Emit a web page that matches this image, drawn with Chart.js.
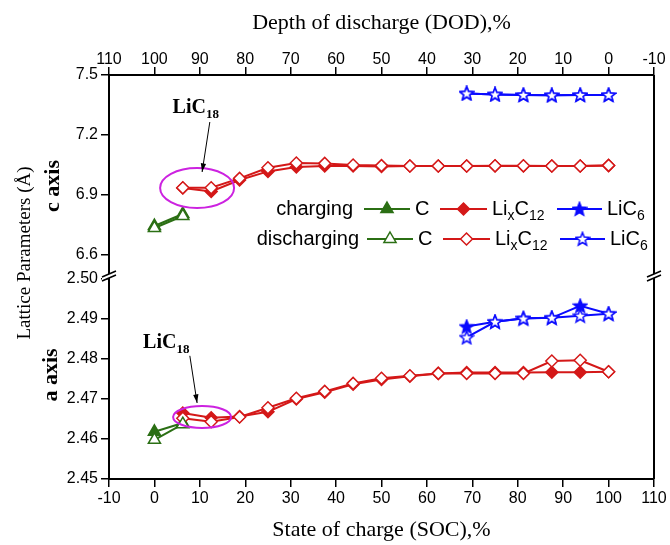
<!DOCTYPE html>
<html>
<head>
<meta charset="utf-8">
<script src="https://cdn.jsdelivr.net/npm/chart.js@4/dist/chart.umd.min.js"></script>
<style>
  html, body { margin: 0; padding: 0; background: #fff; }
</style>
</head>
<body>
<canvas id="chart-lattice" width="670" height="545"></canvas>
<script>
// state of charge (%) for each phase
const socC = [0, 6.25];
const socLi12 = [6.25, 12.5, 18.75, 25, 31.25, 37.5, 43.75, 50, 56.25, 62.5, 68.75, 75, 81.25, 87.5, 93.75, 100];
const socLi6 = [68.75, 75, 81.25, 87.5, 93.75, 100];

// c axis (A)
const cCharge = [6.745, 6.805];
const cDischarge = [6.735, 6.795];
const li12CCharge = [6.935, 6.918, 6.975, 7.018, 7.040, 7.045, 7.045, 7.043, 7.045, 7.045, 7.045, 7.045, 7.045, 7.045, 7.045, 7.047];
const li12CDischarge = [6.936, 6.936, 6.983, 7.036, 7.060, 7.058, 7.050, 7.047, 7.045, 7.045, 7.045, 7.046, 7.046, 7.045, 7.045, 7.048];
const li6CCharge = [7.408, 7.403, 7.400, 7.399, 7.400, 7.400];
const li6CDischarge = [7.408, 7.403, 7.400, 7.399, 7.400, 7.400];

// a axis (A)
const aCharge = [2.4618, 2.4640];
const aDischarge = [2.4598, 2.4637];
const li12ACharge = [2.4665, 2.4653, 2.4656, 2.4668, 2.4700, 2.4717, 2.4737, 2.4749, 2.4757, 2.4764, 2.4766, 2.4766, 2.4766, 2.4767, 2.4767, 2.4768];
const li12ADischarge = [2.4652, 2.4643, 2.4655, 2.4678, 2.4702, 2.4719, 2.4739, 2.4752, 2.4758, 2.4764, 2.4764, 2.4764, 2.4764, 2.4795, 2.4797, 2.4768];
const li6ACharge = [2.4881, 2.4893, 2.4902, 2.4903, 2.4933, 2.4913];
const li6ADischarge = [2.4854, 2.4893, 2.4901, 2.4903, 2.4908, 2.4913];

// tick labels
const cTicks = [6.6, 6.9, 7.2, 7.5];
const aTicks = [2.45, 2.46, 2.47, 2.48, 2.49, 2.50];

const GREEN = '#2b6f14';
const RED = '#d41818';
const BLUE = '#0a0aff';
const MAGENTA = '#cc22e0';
const SANS = '"Liberation Sans", Arial, sans-serif';
const SERIF = '"Liberation Serif", "Times New Roman", serif';

function makeStar(filled) {
  const c = document.createElement('canvas');
  c.width = 16; c.height = 16;
  const g = c.getContext('2d');
  g.beginPath();
  for (let i = 0; i < 10; i++) {
    const r = i % 2 === 0 ? 7 : 3;
    const a = -Math.PI / 2 + i * Math.PI / 5;
    const px = 8 + r * Math.cos(a), py = 8.5 + r * Math.sin(a);
    if (i === 0) g.moveTo(px, py); else g.lineTo(px, py);
  }
  g.closePath();
  g.fillStyle = filled ? BLUE : '#fff';
  g.fill();
  g.lineWidth = 1.5;
  g.strokeStyle = BLUE;
  g.stroke();
  return c;
}
const starFull = makeStar(true);
const starOpen = makeStar(false);

function pts(xs, ys) {
  return xs.map((x, i) => ({x: x, y: ys[i]}));
}

function series(label, xs, ys, axis, color, style, filled, order) {
  const isStar = style === 'star';
  return {
    label: label,
    data: pts(xs, ys),
    yAxisID: axis,
    xAxisID: 'x',
    showLine: true,
    tension: 0,
    borderColor: color,
    borderWidth: 2,
    backgroundColor: filled ? color : '#fff',
    pointStyle: isStar ? (filled ? starFull : starOpen) : style,
    pointRadius: style === 'triangle' ? 7 : 6,
    pointBorderWidth: 1.5,
    pointBorderColor: color,
    pointBackgroundColor: filled ? color : '#fff',
    order: order
  };
}

function drawMark(ctx, kind, filled, color, x, y) {
  ctx.save();
  if (kind === 'star') {
    ctx.drawImage(filled ? starFull : starOpen, x - 8, y - 8);
    ctx.restore();
    return;
  }
  ctx.strokeStyle = color;
  ctx.fillStyle = filled ? color : '#fff';
  ctx.lineWidth = 1.5;
  ctx.beginPath();
  if (kind === 'triangle') {
    const r = 7;
    ctx.moveTo(x, y - r);
    ctx.lineTo(x + r * 0.866, y + r / 2);
    ctx.lineTo(x - r * 0.866, y + r / 2);
  } else {
    const r = 6;
    ctx.moveTo(x - r, y); ctx.lineTo(x, y - r); ctx.lineTo(x + r, y); ctx.lineTo(x, y + r);
  }
  ctx.closePath();
  ctx.fill();
  ctx.stroke();
  ctx.restore();
}

function drawSub(ctx, parts, x, y, big, small, bold, family) {
  // parts: [text, isSub]
  let cx = x;
  parts.forEach(p => {
    ctx.font = (bold ? 'bold ' : '') + (p[1] ? small : big) + 'px ' + family;
    ctx.fillText(p[0], cx, p[1] ? y + big * 0.35 : y);
    cx += ctx.measureText(p[0]).width;
  });
}

function arrow(ctx, x1, y1, x2, y2) {
  ctx.beginPath();
  ctx.moveTo(x1, y1); ctx.lineTo(x2, y2);
  ctx.stroke();
  const a = Math.atan2(y2 - y1, x2 - x1);
  ctx.beginPath();
  ctx.moveTo(x2, y2);
  ctx.lineTo(x2 - 9 * Math.cos(a - 0.3), y2 - 9 * Math.sin(a - 0.3));
  ctx.lineTo(x2 - 9 * Math.cos(a + 0.3), y2 - 9 * Math.sin(a + 0.3));
  ctx.closePath();
  ctx.fill();
}

const decor = {
  id: 'decor',
  afterDraw(chart) {
    const ctx = chart.ctx;
    const area = chart.chartArea;
    const sx = chart.scales.x, yC = chart.scales.yC, yA = chart.scales.yA;
    ctx.save();

    // right frame line
    ctx.strokeStyle = '#000';
    ctx.lineWidth = 2;
    ctx.beginPath();
    ctx.moveTo(area.right, area.top); ctx.lineTo(area.right, area.bottom);
    ctx.stroke();

    // axis break marks
    const yb = yC.bottom;
    [area.left, area.right].forEach(xb => {
      ctx.fillStyle = '#fff';
      ctx.beginPath();
      ctx.moveTo(xb - 7, yb + 1); ctx.lineTo(xb + 7, yb - 5);
      ctx.lineTo(xb + 7, yb - 1); ctx.lineTo(xb - 7, yb + 5);
      ctx.closePath();
      ctx.fill();
      ctx.strokeStyle = '#000';
      ctx.lineWidth = 1.5;
      ctx.beginPath();
      ctx.moveTo(xb - 7, yb + 1); ctx.lineTo(xb + 7, yb - 5);
      ctx.moveTo(xb - 7, yb + 5); ctx.lineTo(xb + 7, yb - 1);
      ctx.stroke();
    });

    // LiC18 ellipses, arrows, labels
    ctx.strokeStyle = MAGENTA;
    ctx.lineWidth = 2;
    ctx.beginPath();
    ctx.ellipse(sx.getPixelForValue(9.4), yC.getPixelForValue(6.935), 37, 20, 0, 0, Math.PI * 2);
    ctx.stroke();
    ctx.beginPath();
    ctx.ellipse(sx.getPixelForValue(10.5), yA.getPixelForValue(2.4655), 29, 11, 0, 0, Math.PI * 2);
    ctx.stroke();

    ctx.strokeStyle = '#000';
    ctx.fillStyle = '#000';
    ctx.lineWidth = 1;
    arrow(ctx, sx.getPixelForValue(12.2), yC.getPixelForValue(7.265), sx.getPixelForValue(10.5), yC.getPixelForValue(7.015));
    arrow(ctx, sx.getPixelForValue(7.8), yA.getPixelForValue(2.4808), sx.getPixelForValue(9.4), yA.getPixelForValue(2.4690));

    ctx.textBaseline = 'middle';
    ctx.textAlign = 'left';
    drawSub(ctx, [['LiC', false], ['18', true]], sx.getPixelForValue(4.0), yC.getPixelForValue(7.335), 20, 13, true, SERIF);
    drawSub(ctx, [['LiC', false], ['18', true]], sx.getPixelForValue(-2.5), yA.getPixelForValue(2.484), 20, 13, true, SERIF);

    // y titles
    ctx.save();
    ctx.translate(25, 253);
    ctx.rotate(-Math.PI / 2);
    ctx.textAlign = 'center';
    ctx.font = '19px ' + SERIF;
    ctx.fillText('Lattice Parameters (\u00C5)', 0, 0);
    ctx.restore();
    ctx.save();
    ctx.translate(53, 186);
    ctx.rotate(-Math.PI / 2);
    ctx.textAlign = 'center';
    ctx.font = 'bold 22px ' + SERIF;
    ctx.fillText('c axis', 0, 0);
    ctx.restore();
    ctx.save();
    ctx.translate(51, 375);
    ctx.rotate(-Math.PI / 2);
    ctx.textAlign = 'center';
    ctx.font = 'bold 22px ' + SERIF;
    ctx.fillText('a axis', 0, 0);
    ctx.restore();

    // legend
    const rows = [
      {label: 'charging', y: 209, right: 353, dx: 0, filled: true},
      {label: 'discharging', y: 239, right: 359, dx: 3, filled: false}
    ];
    rows.forEach(r => {
      ctx.fillStyle = '#000';
      ctx.textAlign = 'right';
      ctx.font = '20px ' + SANS;
      ctx.fillText(r.label, r.right, r.y);
      ctx.textAlign = 'left';
      const entries = [
        {x0: 364, x1: 410, color: GREEN, kind: 'triangle', text: [['C', false]]},
        {x0: 440, x1: 487, color: RED, kind: 'rectRot', text: [['Li', false], ['x', true], ['C', false], ['12', true]]},
        {x0: 557, x1: 602, color: BLUE, kind: 'star', text: [['LiC', false], ['6', true]]}
      ];
      entries.forEach(e => {
        const a = e.x0 + r.dx, b = e.x1 + r.dx;
        ctx.strokeStyle = e.color;
        ctx.lineWidth = 2;
        ctx.beginPath();
        ctx.moveTo(a, r.y); ctx.lineTo(b, r.y);
        ctx.stroke();
        drawMark(ctx, e.kind, r.filled, e.color, (a + b) / 2, r.y);
        ctx.fillStyle = '#000';
        drawSub(ctx, e.text, b + 5, r.y, 20, 14, false, SANS);
      });
    });

    ctx.restore();
  }
};

const tickFont = {size: 16, family: SANS};
const titleFont = {size: 22, family: SERIF};

new Chart(document.getElementById('chart-lattice').getContext('2d'), {
  type: 'scatter',
  data: {
    datasets: [
      series('C discharging', socC, cDischarge, 'yC', GREEN, 'triangle', false, 0),
      series('LixC12 discharging', socLi12, li12CDischarge, 'yC', RED, 'rectRot', false, 0),
      series('LiC6 discharging', socLi6, li6CDischarge, 'yC', BLUE, 'star', false, 0),
      series('C charging', socC, cCharge, 'yC', GREEN, 'triangle', true, 1),
      series('LixC12 charging', socLi12, li12CCharge, 'yC', RED, 'rectRot', true, 1),
      series('LiC6 charging', socLi6, li6CCharge, 'yC', BLUE, 'star', true, 1),
      series('C discharging a', socC, aDischarge, 'yA', GREEN, 'triangle', false, 0),
      series('LixC12 discharging a', socLi12, li12ADischarge, 'yA', RED, 'rectRot', false, 0),
      series('LiC6 discharging a', socLi6, li6ADischarge, 'yA', BLUE, 'star', false, 0),
      series('C charging a', socC, aCharge, 'yA', GREEN, 'triangle', true, 1),
      series('LixC12 charging a', socLi12, li12ACharge, 'yA', RED, 'rectRot', true, 1),
      series('LiC6 charging a', socLi6, li6ACharge, 'yA', BLUE, 'star', true, 1)
    ]
  },
  options: {
    responsive: false,
    animation: false,
    layout: {padding: {left: 0, right: 16, top: 0, bottom: 0}},
    plugins: {
      legend: {display: false},
      tooltip: {enabled: false}
    },
    scales: {
      x: {
        type: 'linear',
        position: 'bottom',
        min: -10,
        max: 110,
        ticks: {stepSize: 10, color: '#000', font: tickFont, padding: 2, maxRotation: 0},
        grid: {display: true, drawOnChartArea: false, drawTicks: true, tickLength: 8, color: '#000', lineWidth: 1.5},
        border: {display: true, color: '#000', width: 2},
        title: {display: true, text: 'State of charge (SOC),%', color: '#000', font: titleFont, padding: {top: 0, bottom: 2}},
        afterFit: s => { s.height = 66; }
      },
      x2: {
        type: 'linear',
        position: 'top',
        min: -10,
        max: 110,
        reverse: true,
        ticks: {stepSize: 10, color: '#000', font: tickFont, padding: -2, maxRotation: 0},
        grid: {display: true, drawOnChartArea: false, drawTicks: true, tickLength: 8, color: '#000', lineWidth: 1.5},
        border: {display: true, color: '#000', width: 2},
        title: {display: true, text: 'Depth of discharge (DOD),%', color: '#000', font: titleFont, padding: {top: 10, bottom: 0}},
        afterFit: s => { s.height = 75; }
      },
      // the a axis is listed first so that the layout stacks it below the c axis
      yA: {
        type: 'linear',
        position: 'left',
        stack: 'lattice',
        stackWeight: 203,
        min: 2.45,
        max: 2.50075,
        afterBuildTicks: s => { s.ticks = aTicks.map(v => ({value: v})); },
        ticks: {color: '#000', font: tickFont, padding: 3, callback: v => Number(v).toFixed(2)},
        grid: {display: true, drawOnChartArea: false, drawTicks: true, tickLength: 8, color: '#000', lineWidth: 1.5},
        border: {display: true, color: '#000', width: 2},
        afterFit: s => { s.width = 109; }
      },
      yC: {
        type: 'linear',
        position: 'left',
        stack: 'lattice',
        stackWeight: 201,
        min: 6.495,
        max: 7.5,
        afterBuildTicks: s => { s.ticks = cTicks.map(v => ({value: v})); },
        ticks: {color: '#000', font: tickFont, padding: 3, callback: v => Number(v).toFixed(1)},
        grid: {display: true, drawOnChartArea: false, drawTicks: true, tickLength: 8, color: '#000', lineWidth: 1.5},
        border: {display: true, color: '#000', width: 2},
        afterFit: s => { s.width = 109; }
      }
    }
  },
  plugins: [decor]
});
</script>
</body>
</html>
